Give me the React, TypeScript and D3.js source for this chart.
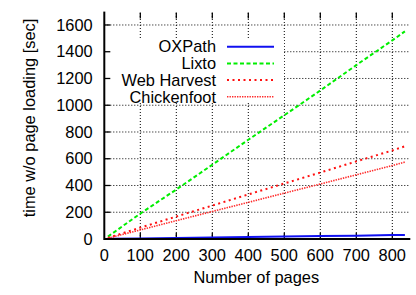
import React from 'react';
import * as d3 from 'd3';

// pages vs. time (sec)
const pages = [10, 100, 200, 300, 400, 500, 600, 700, 800, 835];
const oxpath = [1, 4, 8, 11, 15, 18, 22, 25, 29, 30];
const lixto = [18, 190, 370, 555, 742, 925, 1110, 1300, 1485, 1552];
const webHarvest = [8, 85, 168, 250, 333, 415, 497, 580, 662, 693];
const chickenfoot = [6, 68, 137, 206, 274, 343, 411, 480, 549, 575];

const xTicks = [0, 100, 200, 300, 400, 500, 600, 700, 800];
const yTicks = [0, 200, 400, 600, 800, 1000, 1200, 1400, 1600];

const series = [
  { name: 'OXPath', values: oxpath, color: '#1010f0', width: 2, dash: '' },
  { name: 'Lixto', values: lixto, color: '#00ee00', width: 2, dash: '4,2.5' },
  { name: 'Web Harvest', values: webHarvest, color: '#ff1010', width: 2, dash: '2,3.5' },
  { name: 'Chickenfoot', values: chickenfoot, color: '#ff2a2a', width: 1.6, dash: '1.4,1.1' },
];

const W = 416;
const H = 295;
const font = '"Liberation Sans", Arial, Helvetica, sans-serif';

export default function App() {
  const x = d3.scaleLinear().domain([0, 850]).range([104.3, 410.3]);
  const y = d3.scaleLinear().domain([0, 1700]).range([239, 11.6]);
  const top = y(1700);
  const line = d3
    .line<[number, number]>()
    .x(d => x(d[0]))
    .y(d => y(d[1]));

  const legendRows = [46.7, 63.4, 80.1, 96.8];

  return (
    <svg
      width={W}
      height={H}
      style={{ position: 'absolute', left: 0, top: 0, background: '#fff' }}
      fontFamily={font}
      fontSize={16.4}
    >
      {/* grid */}
      <g stroke="#000" strokeWidth={1} strokeDasharray="1,2">
        {xTicks.filter(t => t > 0).map(t => (
          <line key={'gx' + t} x1={x(t)} x2={x(t)} y1={y(0)} y2={top} />
        ))}
        {yTicks.filter(t => t > 0).map(t => (
          <line key={'gy' + t} x1={x(0)} x2={x(850)} y1={y(t)} y2={y(t)} />
        ))}
      </g>

      {/* legend background */}
      <rect x={105} y={38} width={179} height={65} fill="#fff" />

      {/* tick marks */}
      <g stroke="#000" strokeWidth={1.3}>
        {xTicks.filter(t => t > 0).map(t => (
          <g key={'tx' + t}>
            <line x1={x(t)} x2={x(t)} y1={y(0)} y2={y(0) - 6} />
            <line x1={x(t)} x2={x(t)} y1={top + 1} y2={top + 7} />
          </g>
        ))}
        {yTicks.filter(t => t > 0).map(t => (
          <line key={'ty' + t} x1={x(0)} x2={x(0) + 6} y1={y(t)} y2={y(t)} />
        ))}
      </g>

      {/* series */}
      {series.map(s => (
        <path
          key={s.name}
          d={line(pages.map((p, i) => [p, s.values[i]] as [number, number])) || ''}
          fill="none"
          stroke={s.color}
          strokeWidth={s.width}
          strokeDasharray={s.dash || undefined}
        />
      ))}

      {/* axes */}
      <line x1={x(0)} x2={x(850)} y1={y(0)} y2={y(0)} stroke="#000" strokeWidth={2} />
      <line x1={x(0)} x2={x(0)} y1={y(0) + 1} y2={top} stroke="#000" strokeWidth={2} />

      {/* tick labels */}
      <g fill="#000">
        {xTicks.map(t => (
          <text key={'lx' + t} x={x(t)} y={260.8} textAnchor="middle">
            {t}
          </text>
        ))}
        {yTicks.map(t => (
          <text key={'ly' + t} x={92.7} y={y(t)} dy="0.35em" textAnchor="end">
            {t}
          </text>
        ))}
      </g>

      {/* axis titles */}
      <text x={256.3} y={283.4} textAnchor="middle">
        Number of pages
      </text>
      <text transform="translate(35, 118) rotate(-90)" textAnchor="middle">
        time w/o page loading [sec]
      </text>

      {/* legend */}
      {series.map((s, i) => (
        <g key={'lg' + s.name}>
          <text x={216} y={legendRows[i]} dy="0.35em" textAnchor="end">
            {s.name}
          </text>
          <line
            x1={227}
            x2={274}
            y1={legendRows[i]}
            y2={legendRows[i]}
            stroke={s.color}
            strokeWidth={s.width}
            strokeDasharray={s.dash || undefined}
          />
        </g>
      ))}
    </svg>
  );
}
